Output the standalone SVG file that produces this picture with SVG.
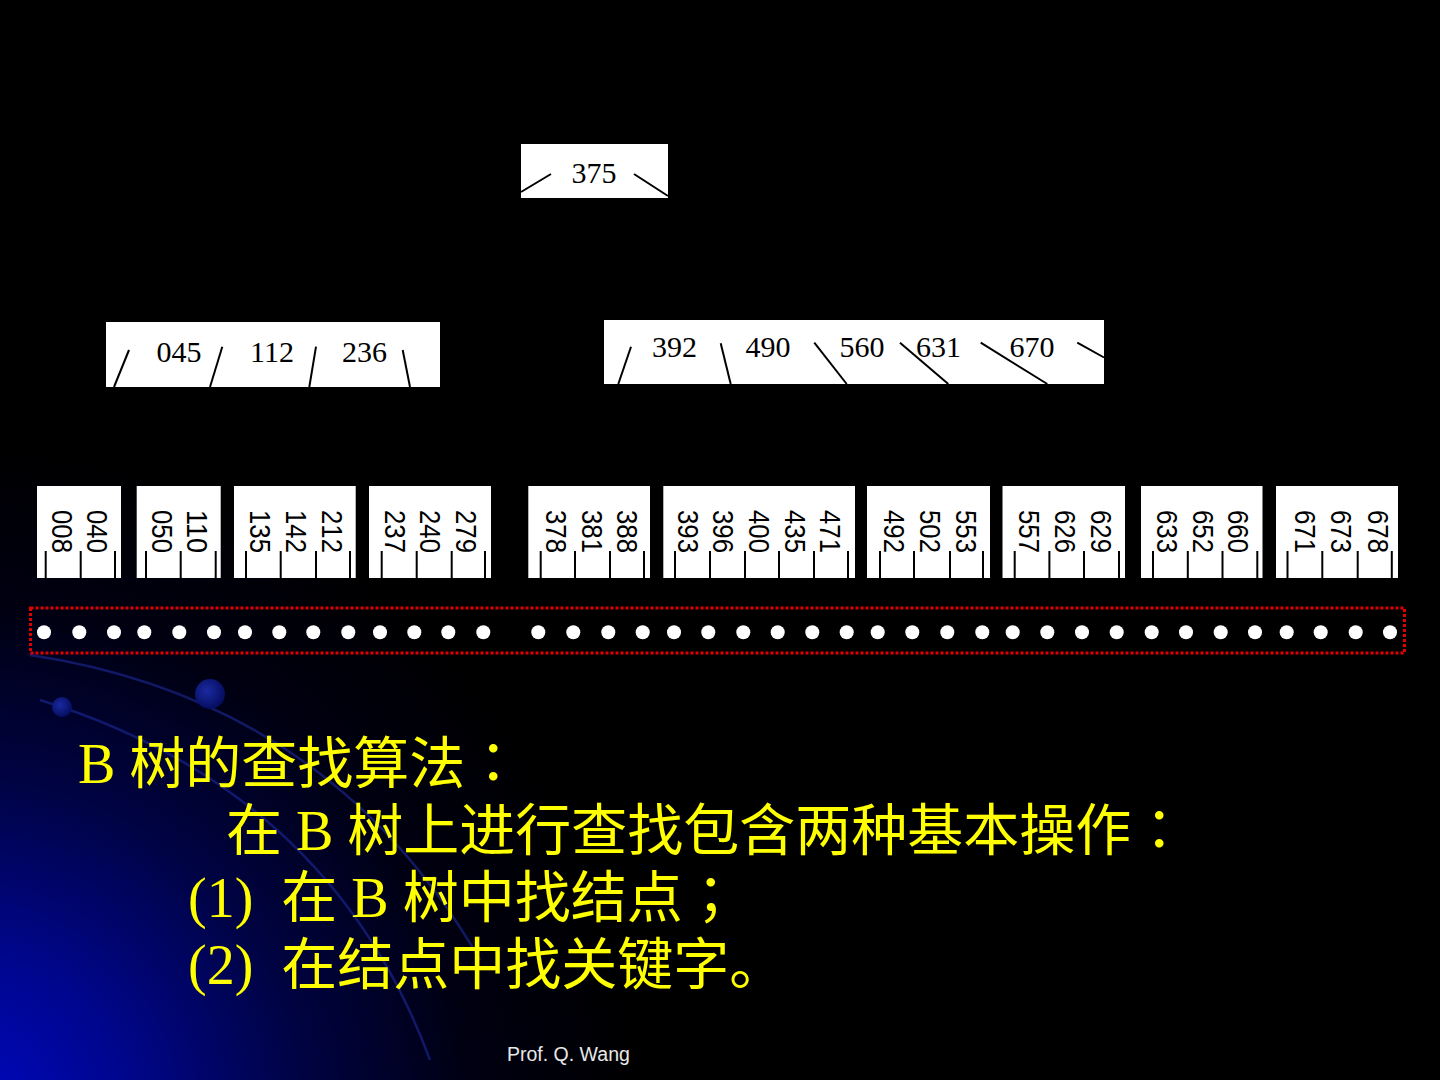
<svg xmlns="http://www.w3.org/2000/svg" width="1440" height="1080" viewBox="0 0 1440 1080">
<defs>
<radialGradient id="bg" cx="-40" cy="1120" r="680" gradientUnits="userSpaceOnUse">
<stop offset="0" stop-color="#0008c4"/>
<stop offset="0.25" stop-color="#00068c"/>
<stop offset="0.5" stop-color="#000344"/>
<stop offset="0.75" stop-color="#000012"/>
<stop offset="1" stop-color="#000000"/>
</radialGradient>
<radialGradient id="ball" cx="0.4" cy="0.4" r="0.6">
<stop offset="0" stop-color="#1a2aa0"/>
<stop offset="1" stop-color="#060e60"/>
</radialGradient>
<style>
.node{fill:#ffffff;}
.key{font-family:"Liberation Serif",serif;font-size:30px;fill:#000;text-anchor:middle;}
.leafkey{font-family:"Liberation Sans",sans-serif;font-size:30px;fill:#000;}
.ptr{stroke:#000;stroke-width:2;fill:none;}
.tick{stroke:#000;stroke-width:2;}
.arc{stroke:#1c2a9a;stroke-width:2.5;fill:none;opacity:0.6;}
.title{font-family:"Liberation Serif","Noto Sans CJK SC",sans-serif;font-size:56px;fill:#ffff00;white-space:pre;}
.punct{font-family:"Noto Sans CJK TC",sans-serif;}
.foot{font-family:"Liberation Sans",sans-serif;font-size:19.5px;fill:#e8e8e8;}
.dot{fill:#ffffff;}
</style>
</defs>

<rect width="1440" height="1080" fill="#000"/>
<rect width="1440" height="1080" fill="url(#bg)"/>
<path class="arc" d="M 30,655 Q 330,700 480,960"/>
<path class="arc" d="M 40,700 Q 330,790 430,1060"/>
<circle cx="210" cy="694" r="15" fill="url(#ball)"/>
<circle cx="62" cy="707" r="10" fill="url(#ball)"/>

<g id="root">
<rect class="node" x="521" y="144" width="147" height="54"/>
<text class="key" x="594" y="183">375</text>
</g>

<g id="node-left">
<rect class="node" x="106" y="322" width="334" height="65"/>
<text class="key" x="179" y="362">045</text>
<text class="key" x="272" y="362">112</text>
<text class="key" x="364.5" y="362">236</text>
</g>

<g id="node-right">
<rect class="node" x="604" y="320" width="500" height="64"/>
<text class="key" x="674.5" y="357">392</text>
<text class="key" x="768" y="357">490</text>
<text class="key" x="862" y="357">560</text>
<text class="key" x="938.5" y="357">631</text>
<text class="key" x="1032" y="357">670</text>
</g>

<g id="connectors">
<line class="ptr" x1="521" y1="192" x2="551" y2="174"/>
<line class="ptr" x1="634" y1="174" x2="668" y2="196"/>
<line class="ptr" x1="129" y1="350" x2="114" y2="387"/>
<line class="ptr" x1="222.3" y1="346.7" x2="210" y2="387"/>
<line class="ptr" x1="316" y1="346.7" x2="309.3" y2="387"/>
<line class="ptr" x1="402.7" y1="350" x2="410" y2="387"/>
<line class="ptr" x1="631" y1="346.7" x2="618.3" y2="384"/>
<line class="ptr" x1="720.7" y1="343.3" x2="730.7" y2="384"/>
<line class="ptr" x1="814.3" y1="342.7" x2="846.7" y2="384"/>
<line class="ptr" x1="900" y1="342.7" x2="948.3" y2="384"/>
<line class="ptr" x1="980.7" y1="342.7" x2="1047.3" y2="384"/>
<line class="ptr" x1="1077.3" y1="342.7" x2="1104" y2="357.5"/>
</g>

<g id="leaf1">
<rect class="node" x="37" y="486" width="84" height="92"/>
<text class="leafkey" transform="translate(51.7,510) rotate(90)" textLength="43" lengthAdjust="spacingAndGlyphs">008</text>
<text class="leafkey" transform="translate(86.7,510) rotate(90)" textLength="43" lengthAdjust="spacingAndGlyphs">040</text>
<path class="tick" d="M45.7,551V578M80.7,551V578M115,551V578"/>
</g>
<g id="leaf2">
<rect class="node" x="136.7" y="486" width="84" height="92"/>
<text class="leafkey" transform="translate(151.7,510) rotate(90)" textLength="43" lengthAdjust="spacingAndGlyphs">050</text>
<text class="leafkey" transform="translate(186.7,510) rotate(90)" textLength="43" lengthAdjust="spacingAndGlyphs">110</text>
<path class="tick" d="M146,551V578M180.7,551V578M215.7,551V578"/>
</g>
<g id="leaf3">
<rect class="node" x="234" y="486" width="121.7" height="92"/>
<text class="leafkey" transform="translate(250,510) rotate(90)" textLength="43" lengthAdjust="spacingAndGlyphs">135</text>
<text class="leafkey" transform="translate(286,510) rotate(90)" textLength="43" lengthAdjust="spacingAndGlyphs">142</text>
<text class="leafkey" transform="translate(321.7,510) rotate(90)" textLength="43" lengthAdjust="spacingAndGlyphs">212</text>
<path class="tick" d="M246,551V578M280.7,551V578M316,551V578M350,551V578"/>
</g>
<g id="leaf4">
<rect class="node" x="369" y="486" width="122" height="92"/>
<text class="leafkey" transform="translate(385,510) rotate(90)" textLength="43" lengthAdjust="spacingAndGlyphs">237</text>
<text class="leafkey" transform="translate(420,510) rotate(90)" textLength="43" lengthAdjust="spacingAndGlyphs">240</text>
<text class="leafkey" transform="translate(456,510) rotate(90)" textLength="43" lengthAdjust="spacingAndGlyphs">279</text>
<path class="tick" d="M381.7,551V578M416.7,551V578M451.7,551V578M485,551V578"/>
</g>
<g id="leaf5">
<rect class="node" x="528.3" y="486" width="121.7" height="92"/>
<text class="leafkey" transform="translate(546,510) rotate(90)" textLength="43" lengthAdjust="spacingAndGlyphs">378</text>
<text class="leafkey" transform="translate(581.7,510) rotate(90)" textLength="43" lengthAdjust="spacingAndGlyphs">381</text>
<text class="leafkey" transform="translate(616.7,510) rotate(90)" textLength="43" lengthAdjust="spacingAndGlyphs">388</text>
<path class="tick" d="M540.7,551V578M575,551V578M610,551V578M644,551V578"/>
</g>
<g id="leaf6">
<rect class="node" x="663.3" y="486" width="191.7" height="92"/>
<text class="leafkey" transform="translate(678.3,510) rotate(90)" textLength="43" lengthAdjust="spacingAndGlyphs">393</text>
<text class="leafkey" transform="translate(713.3,510) rotate(90)" textLength="43" lengthAdjust="spacingAndGlyphs">396</text>
<text class="leafkey" transform="translate(749.3,510) rotate(90)" textLength="43" lengthAdjust="spacingAndGlyphs">400</text>
<text class="leafkey" transform="translate(785,510) rotate(90)" textLength="43" lengthAdjust="spacingAndGlyphs">435</text>
<text class="leafkey" transform="translate(820,510) rotate(90)" textLength="43" lengthAdjust="spacingAndGlyphs">471</text>
<path class="tick" d="M675,551V578M710,551V578M745,551V578M779,551V578M814,551V578M848,551V578"/>
</g>
<g id="leaf7">
<rect class="node" x="867" y="486" width="123" height="92"/>
<text class="leafkey" transform="translate(884.3,510) rotate(90)" textLength="43" lengthAdjust="spacingAndGlyphs">492</text>
<text class="leafkey" transform="translate(919.8,510) rotate(90)" textLength="43" lengthAdjust="spacingAndGlyphs">502</text>
<text class="leafkey" transform="translate(955.6,510) rotate(90)" textLength="43" lengthAdjust="spacingAndGlyphs">553</text>
<path class="tick" d="M880,551V578M914,551V578M950,551V578M983,551V578"/>
</g>
<g id="leaf8">
<rect class="node" x="1002.5" y="486" width="122.5" height="92"/>
<text class="leafkey" transform="translate(1019.2,510) rotate(90)" textLength="43" lengthAdjust="spacingAndGlyphs">557</text>
<text class="leafkey" transform="translate(1054.6,510) rotate(90)" textLength="43" lengthAdjust="spacingAndGlyphs">626</text>
<text class="leafkey" transform="translate(1091,510) rotate(90)" textLength="43" lengthAdjust="spacingAndGlyphs">629</text>
<path class="tick" d="M1014.7,551V578M1049.4,551V578M1084,551V578M1119,551V578"/>
</g>
<g id="leaf9">
<rect class="node" x="1141" y="486" width="121.5" height="92"/>
<text class="leafkey" transform="translate(1157,510) rotate(90)" textLength="43" lengthAdjust="spacingAndGlyphs">633</text>
<text class="leafkey" transform="translate(1193,510) rotate(90)" textLength="43" lengthAdjust="spacingAndGlyphs">652</text>
<text class="leafkey" transform="translate(1228.4,510) rotate(90)" textLength="43" lengthAdjust="spacingAndGlyphs">660</text>
<path class="tick" d="M1153,551V578M1187.8,551V578M1222.5,551V578M1257.3,551V578"/>
</g>
<g id="leaf10">
<rect class="node" x="1276" y="486" width="122" height="92"/>
<text class="leafkey" transform="translate(1294.5,510) rotate(90)" textLength="43" lengthAdjust="spacingAndGlyphs">671</text>
<text class="leafkey" transform="translate(1331,510) rotate(90)" textLength="43" lengthAdjust="spacingAndGlyphs">673</text>
<text class="leafkey" transform="translate(1367.5,510) rotate(90)" textLength="43" lengthAdjust="spacingAndGlyphs">678</text>
<path class="tick" d="M1287.5,551V578M1322.3,551V578M1357.7,551V578M1391.8,551V578"/>
</g>

<g id="disk">
<rect x="30.5" y="608" width="1374" height="45" fill="none" stroke="#e00000" stroke-width="3" stroke-dasharray="3 2"/>
<g class="dot">
<circle cx="44" cy="632.3" r="7"/><circle cx="79.3" cy="632.3" r="7"/><circle cx="114" cy="632.3" r="7"/><circle cx="144.3" cy="632.3" r="7"/><circle cx="179.3" cy="632.3" r="7"/><circle cx="214" cy="632.3" r="7"/><circle cx="245" cy="632.3" r="7"/><circle cx="279.3" cy="632.3" r="7"/><circle cx="313.3" cy="632.3" r="7"/><circle cx="348.3" cy="632.3" r="7"/><circle cx="380" cy="632.3" r="7"/><circle cx="414.3" cy="632.3" r="7"/><circle cx="448.3" cy="632.3" r="7"/><circle cx="483.3" cy="632.3" r="7"/>
<circle cx="538.3" cy="632.3" r="7"/><circle cx="573.3" cy="632.3" r="7"/><circle cx="608.3" cy="632.3" r="7"/><circle cx="642.7" cy="632.3" r="7"/><circle cx="674" cy="632.3" r="7"/><circle cx="708.3" cy="632.3" r="7"/><circle cx="743.3" cy="632.3" r="7"/><circle cx="777.7" cy="632.3" r="7"/><circle cx="812.3" cy="632.3" r="7"/><circle cx="846.7" cy="632.3" r="7"/><circle cx="877.7" cy="632.3" r="7"/><circle cx="912.3" cy="632.3" r="7"/><circle cx="947.3" cy="632.3" r="7"/><circle cx="982.3" cy="632.3" r="7"/><circle cx="1012.7" cy="632.3" r="7"/><circle cx="1047.3" cy="632.3" r="7"/><circle cx="1082" cy="632.3" r="7"/><circle cx="1116.7" cy="632.3" r="7"/><circle cx="1151.7" cy="632.3" r="7"/><circle cx="1186" cy="632.3" r="7"/><circle cx="1220.7" cy="632.3" r="7"/><circle cx="1255" cy="632.3" r="7"/><circle cx="1286.7" cy="632.3" r="7"/><circle cx="1320.7" cy="632.3" r="7"/><circle cx="1355.7" cy="632.3" r="7"/><circle cx="1390" cy="632.3" r="7"/>
</g>
</g>

<g id="caption">
<text class="title" x="78" y="783">B 树的查找算法<tspan class="punct">：</tspan></text>
<text class="title" x="226" y="850">在 B 树上进行查找包含两种基本操作<tspan class="punct">：</tspan></text>
<text class="title" x="188" y="917">(1)  在 B 树中找结点<tspan class="punct">；</tspan></text>
<text class="title" x="188" y="984">(2)  在结点中找关键字。</text>
</g>

<text class="foot" x="507" y="1061">Prof. Q. Wang</text>
</svg>
